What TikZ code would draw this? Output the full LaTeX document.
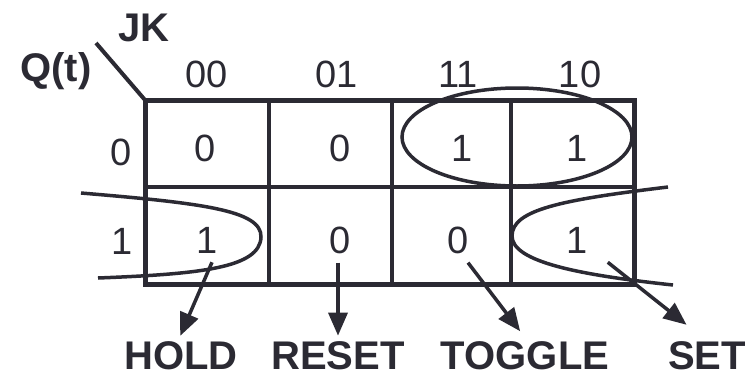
\documentclass[tikz,border=0pt]{standalone}
\usepackage{fontspec}
\setmainfont{Liberation Sans}
\usepackage{xcolor}
\usetikzlibrary{arrows.meta}
\definecolor{ink}{RGB}{43,42,51}

\begin{document}
\begin{tikzpicture}
    [
        x=1pt, y=-1pt,
        cellline/.style={draw=ink, line width=4pt},
        outline/.style={draw=ink, line width=5pt},
        grp/.style={draw=ink, line width=3.5pt},
        arr/.style={draw=ink, line width=3.5pt, -{Triangle[length=23pt,width=19pt]}, shorten >=3pt},
        bit/.style={text=ink, font=\fontsize{38}{38}\selectfont, inner sep=2pt},
        tag/.style={text=ink, font=\fontsize{40}{40}\selectfont\bfseries, inner sep=1pt},
    ]
\useasboundingbox (0,0) rectangle (755,378);

% the map
\foreach \x in {269,392,511}
    \draw[cellline] (\x,100) -- (\x,284);
\draw[cellline] (145,187) -- (634,187);
\draw[outline] (145,100) rectangle (634,284);
\draw[cellline] (96,43) -- (145,100);

\node[tag] (jk) at (144,28) {JK};
\node[tag] (qt) at (56,71) {Q(t)};

\foreach \x/\t in {207/00,337/01,458/11,580/10}
    \node[bit] (col\t) at (\x,74) {\t};
\node[bit] (row0) at (121,152) {0};
\node[bit] (row1) at (122,241) {1};

\foreach \x/\v [count=\i from 0] in {205/0,340/0,462/1,577/1}
    \node[bit] (r0c\i) at (\x,148) {\v};
\foreach \x/\v [count=\i from 0] in {207/1,340/0,458/0,577/1}
    \node[bit] (r1c\i) at (\x,240) {\v};

% groupings
\draw[grp] (517,137) ellipse [x radius=115, y radius=49];
\draw[grp] (81,193) .. controls (200,203) and (262,210) .. (261,237)
    .. controls (260,268) and (200,274) .. (98,278);
\draw[grp] (668,187) .. controls (560,200) and (512,210) .. (512,236)
    .. controls (512,262) and (580,275) .. (673,285);

% what each case does
\node[tag] (hold) at (181,356) {HOLD};
\node[tag] (reset) at (338,356) {RESET};
\node[tag] (toggle) at (525,356) {TOGGLE};
\node[tag] (set) at (707,356) {SET};

\draw[arr] ([xshift=5pt,yshift=-7pt]r1c0.south) -- ([xshift=-2pt,yshift=2pt]hold.north);
\draw[arr] ([xshift=-2pt,yshift=-7pt]r1c1.south) -- ([yshift=2pt]reset.north);
\draw[arr] ([xshift=10pt,yshift=-7pt]r1c2.south) -- ([xshift=-3pt,yshift=7pt]toggle.north);
\draw[arr] ([xshift=18pt,yshift=-7pt]r1c3.south east) -- ([xshift=22pt,yshift=14pt]set.north west);
\end{tikzpicture}
\end{document}
